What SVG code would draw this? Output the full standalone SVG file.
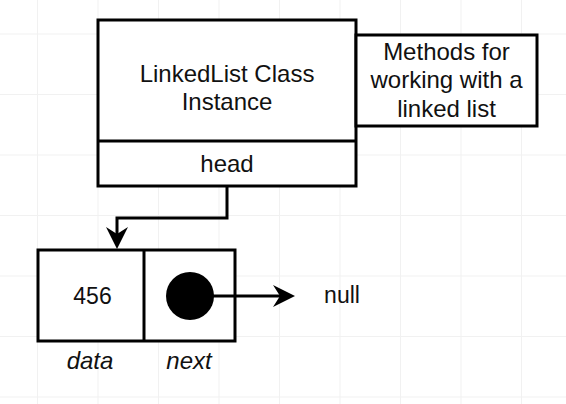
<svg xmlns="http://www.w3.org/2000/svg" width="566" height="404" viewBox="0 0 566 404">
  <style>
    .box { fill: #ffffff; stroke: #000000; stroke-width: 3; }
    .line { fill: none; stroke: #000000; stroke-width: 3; }
    .grid { stroke: #f1f1f1; stroke-width: 1; }
    text { font-family: "Liberation Sans", Arial, Helvetica, sans-serif; font-size: 24px; fill: #111111; text-anchor: middle; }
    .it { font-style: italic; }
  </style>
  <defs>
    <marker id="arrow" markerUnits="userSpaceOnUse" refX="7" refY="0" markerWidth="24" markerHeight="24" orient="auto" overflow="visible">
      <path d="M0,-11 L22,0 L0,11 L7,0 Z" fill="#000000"/>
    </marker>
  </defs>
  <rect width="566" height="404" fill="#ffffff"/>
  <g id="grid" class="grid">
    <line x1="37.5" y1="0" x2="37.5" y2="404"/>
    <line x1="98" y1="0" x2="98" y2="404"/>
    <line x1="158.5" y1="0" x2="158.5" y2="404"/>
    <line x1="219" y1="0" x2="219" y2="404"/>
    <line x1="279.5" y1="0" x2="279.5" y2="404"/>
    <line x1="340" y1="0" x2="340" y2="404"/>
    <line x1="400.5" y1="0" x2="400.5" y2="404"/>
    <line x1="461" y1="0" x2="461" y2="404"/>
    <line x1="521.5" y1="0" x2="521.5" y2="404"/>
    <line x1="0" y1="34" x2="566" y2="34"/>
    <line x1="0" y1="94.5" x2="566" y2="94.5"/>
    <line x1="0" y1="155" x2="566" y2="155"/>
    <line x1="0" y1="215.5" x2="566" y2="215.5"/>
    <line x1="0" y1="276" x2="566" y2="276"/>
    <line x1="0" y1="336.5" x2="566" y2="336.5"/>
    <line x1="0" y1="397" x2="566" y2="397"/>
  </g>
  <g id="linkedlist">
    <rect class="box" x="98" y="20" width="258" height="166"/>
    <line class="line" x1="98" y1="141" x2="356" y2="141"/>
    <text x="227" y="82">LinkedList Class</text>
    <text x="227" y="110">Instance</text>
  </g>
  <g id="head">
    <text x="227" y="172">head</text>
  </g>
  <g id="methods">
    <rect class="box" x="356" y="35" width="181" height="91"/>
    <text x="446.5" y="60">Methods for</text>
    <text x="446.5" y="88">working with a</text>
    <text x="446.5" y="117">linked list</text>
  </g>
  <g id="node">
    <rect class="box" x="38" y="250" width="197" height="91"/>
    <line class="line" x1="144" y1="250" x2="144" y2="341"/>
    <text x="92.5" y="304" style="font-size:23px">456</text>
  </g>
  <g id="connectors">
    <path class="line" d="M227,186 V218 H117 V234" marker-end="url(#arrow)"/>
    <path class="line" d="M190,296 H280" marker-end="url(#arrow)"/>
  </g>
  <g id="pointer">
    <circle cx="190" cy="296" r="24" fill="#000000"/>
  </g>
  <g id="labels">
    <text class="it" x="90" y="369">data</text>
    <text class="it" x="189" y="369">next</text>
    <text x="342" y="303" style="font-size:23px">null</text>
  </g>
</svg>
